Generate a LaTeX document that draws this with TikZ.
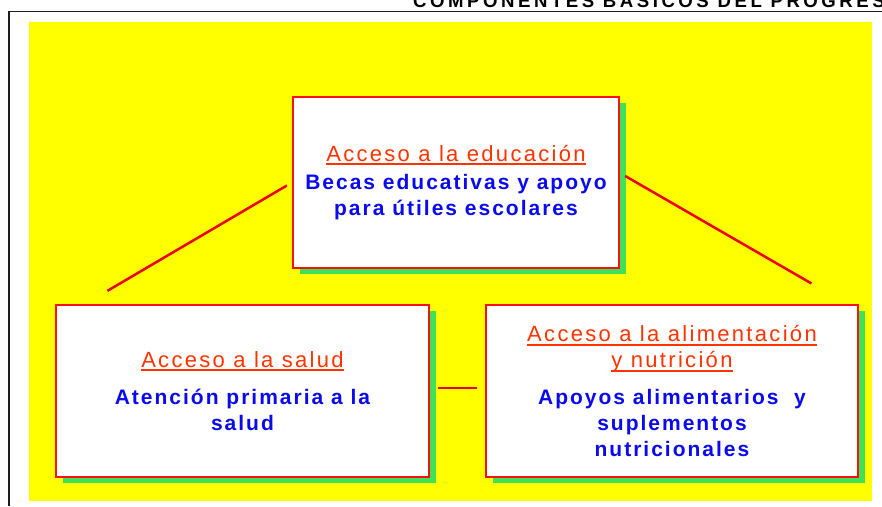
\documentclass[tikz,border=0pt]{standalone}
\usepackage{fontspec}
\setmainfont{Liberation Sans}
\newfontfamily\titlefont{Liberation Sans}[LetterSpace=10.5]
\newfontfamily\bodyfont{Liberation Sans}[LetterSpace=9.5]
\newfontfamily\headfont{Liberation Sans}[LetterSpace=19]
\usetikzlibrary{shadows}
\definecolor{fondo}{RGB}{255,255,0}
\definecolor{borde}{RGB}{255,16,16}
\definecolor{sombra}{RGB}{64,224,88}
\definecolor{enlacerojo}{RGB}{240,0,0}
\definecolor{titlered}{RGB}{255,51,0}
\definecolor{bodyblue}{RGB}{10,10,240}
\definecolor{marco}{RGB}{30,30,30}
\newcommand{\undl}[1]{\leavevmode\setbox0\hbox{#1}\rlap{\rule[-4pt]{\wd0}{2pt}}\box0}
\newcommand{\cabeza}[1]{{\titlefont\fontsize{22}{26}\selectfont\color{titlered}\undl{#1}}}
\newcommand{\cuerpo}{\bodyfont\bfseries\color{bodyblue}}
\begin{document}
\begin{tikzpicture}[x=1pt,y=-1pt,
  caja/.style={draw=borde, line width=2pt, fill=white, minimum width=373pt, minimum height=172pt,
    align=center, font=\fontsize{21}{26}\selectfont,
    drop shadow={shadow xshift=7pt, shadow yshift=-6pt, fill=sombra, opacity=1}},
  enlace/.style={draw=enlacerojo, line width=2.5pt}]
\useasboundingbox (0,0) rectangle (882,506);
\clip (0,0) rectangle (882,506);
\fill[fondo] (29,22) rectangle (872,501);
\draw[marco, line width=1.8pt] (9,506) -- (9,11.5) -- (884,11.5);
\node[anchor=base west, inner sep=0pt, font=\headfont\bfseries\fontsize{18.6}{21}\selectfont] (titulo) at (413,7) {COMPONENTES BÁSICOS DEL PROGRESA};
% tres componentes
\node[caja, minimum width=326pt, minimum height=171pt] (edu) at (456,182.5) {\cabeza{Acceso a la educación}\\[2pt]
  {\cuerpo Becas educativas y apoyo}\\ {\cuerpo para útiles escolares}};
\node[caja] (salud) at (242.5,391) {\cabeza{Acceso a la salud}\\[11pt]
  {\cuerpo Atención primaria a la}\\ {\cuerpo salud}};
\node[caja, minimum width=372pt] (alim) at (672,391) {\cabeza{Acceso a la alimentación}\\ \cabeza{y nutrición}\\[11pt]
  {\cuerpo Apoyos alimentarios\ \ y}\\ {\cuerpo suplementos}\\ {\cuerpo nutricionales}};
\draw[enlace, shorten <=6pt, shorten >=26pt] (edu.west) -- ([xshift=30pt]salud.north west);
\draw[enlace, shorten <=6pt, shorten >=41pt] ([yshift=9.5pt]edu.east) -- ([xshift=-12pt]alim.north east);
\draw[enlace, shorten <=8pt, shorten >=8pt] ([yshift=3pt]salud.east) -- ([yshift=3pt]alim.west);
\end{tikzpicture}
\end{document}
